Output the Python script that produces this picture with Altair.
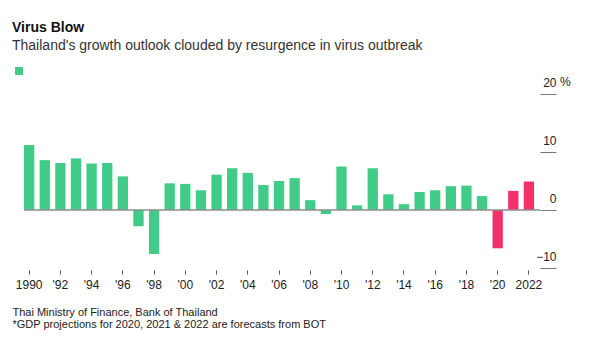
import altair as alt
import pandas as pd

years = [str(y) for y in range(1990, 2023)]
growth = [11.2, 8.6, 8.1, 8.9, 8.0, 8.1, 5.8, -2.8, -7.6, 4.6, 4.5, 3.4, 6.1,
          7.2, 6.4, 4.3, 5.0, 5.5, 1.7, -0.7, 7.5, 0.8, 7.2, 2.7, 1.0, 3.1,
          3.4, 4.1, 4.2, 2.4, -6.6, 3.3, 4.9]
kind = ["Actual"] * 30 + ["Forecast"] * 3
x_ticks = [str(y) for y in range(1990, 2023, 2)]
y_ticks = [-10, 0, 10, 20]

title = "Virus Blow"
subtitle = "Thailand's growth outlook clouded by resurgence in virus outbreak"
footer = ["Thai Ministry of Finance, Bank of Thailand",
          "*GDP projections for 2020, 2021 & 2022 are forecasts from BOT"]

df = pd.DataFrame({"year": years, "growth": growth, "kind": kind})

FONT = "Liberation Sans"
GREEN = "#40cc88"
PINK = "#f4306a"

label_expr = ("datum.value == '1990' || datum.value == '2022' ? datum.value : "
              "\"'\" + substring(datum.value, 2, 4)")

x_enc = alt.X(
    "year:O",
    scale=alt.Scale(paddingInner=0.34, paddingOuter=0.19, align=0),
    axis=alt.Axis(
        values=x_ticks, labelExpr=label_expr, labelAngle=0,
        domain=False, ticks=True, tickSize=4, tickColor="#555",
        offset=2, labelPadding=5, labelFontSize=12, labelColor="#222",
        labelFont=FONT,
        title=footer, titleFont=FONT, titleFontSize=11, titleFontWeight="normal",
        titleColor="#222", titleAnchor="start", titleAlign="left",
        titleBaseline="top", titleX=-12, titleY=36, titleLineHeight=12.5,
    ),
)

y_enc = alt.Y(
    "growth:Q",
    scale=alt.Scale(domain=[-10, 20], nice=False),
    axis=alt.Axis(
        orient="right", values=y_ticks, grid=False, domain=False,
        tickSize=16, tickColor="#777", tickWidth=1,
        labelAlign="right", labelBaseline="bottom", labelPadding=0,
        labelOffset=-5, labelFontSize=12, labelColor="#222", labelFont=FONT,
        title=None,
    ),
)

bars = alt.Chart(df).mark_bar().encode(
    x=x_enc,
    y=y_enc,
    color=alt.Color(
        "kind:N",
        scale=alt.Scale(domain=["Actual", "Forecast"], range=[GREEN, PINK]),
        legend=alt.Legend(
            values=["Actual"], title=None, orient="none", legendX=-10,
            legendY=-28, symbolType="square", symbolSize=64,
            symbolStrokeWidth=0, labelExpr="''", padding=0,
        ),
    ),
)

zero = alt.Chart(pd.DataFrame({"z": [0]})).mark_rule(
    color="#8c8c8c", strokeWidth=1.5
).encode(y="z:Q")

pct = alt.Chart(pd.DataFrame({"t": ["%"], "v": [20]})).mark_text(
    align="left", baseline="bottom", fontSize=12, font=FONT, color="#222", dy=-5
).encode(text="t:N", y="v:Q", x=alt.value(536))

chart = alt.layer(bars, zero, pct).properties(
    width=516, height=174,
    title=alt.TitleParams(
        text=title, subtitle=subtitle, anchor="start", frame="group", dx=-12,
        dy=-9,
        font=FONT, fontSize=14, fontWeight="bold", color="#111",
        subtitleFont=FONT, subtitleFontSize=14, subtitleColor="#333",
        subtitlePadding=4,
    ),
    padding={"left": 24, "top": 94, "right": 51, "bottom": 83},
    autosize=alt.AutoSizeParams(type="none"),
).configure_view(stroke=None)

chart.save("out.html", embed_options={"renderer": "svg", "actions": False})
